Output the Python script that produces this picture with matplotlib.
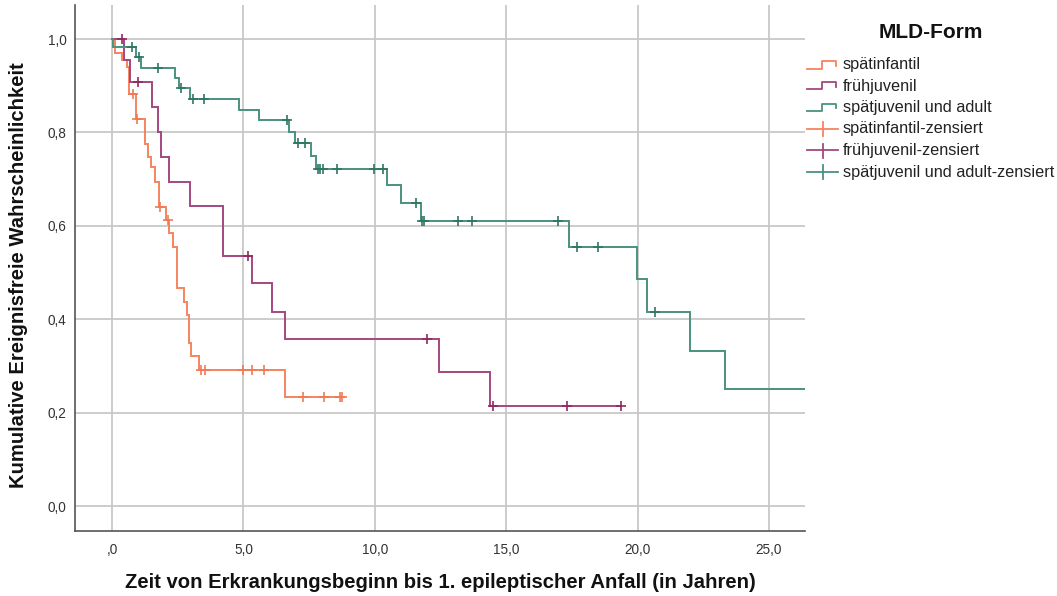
import numpy as np
import matplotlib
matplotlib.use('Agg')
import matplotlib.pyplot as plt
from matplotlib.lines import Line2D

plt.rcParams['font.family'] = ['Liberation Sans', 'DejaVu Sans']

# ---------------- data ----------------
groups = ['spätinfantil', 'frühjuvenil', 'spätjuvenil und adult']
legend_title = 'MLD-Form'
x_label = 'Zeit von Erkrankungsbeginn bis 1. epileptischer Anfall (in Jahren)'
y_label = 'Kumulative Ereignisfreie Wahrscheinlichkeit'

# spätinfantil
inf_times = [0.0, 0.11, 0.37, 0.55, 0.65, 0.91, 1.24, 1.36, 1.50, 1.63, 1.80,
             2.07, 2.16, 2.33, 2.48, 2.73, 2.84, 2.93, 3.01, 3.32, 6.58]
inf_surv = [1.0, 0.971, 0.956, 0.941, 0.882, 0.828, 0.775, 0.748, 0.725, 0.694, 0.641,
            0.612, 0.584, 0.555, 0.467, 0.437, 0.409, 0.350, 0.321, 0.292, 0.234]
inf_censor = [0.80, 0.96, 1.84, 2.12, 3.40, 3.53, 5.00, 5.32, 5.80, 7.28, 8.08, 8.68, 8.76]
inf_end = 8.76

# frühjuvenil
juv_times = [0.0, 0.45, 0.68, 1.53, 1.74, 1.86, 2.17, 2.97, 4.24, 5.31, 6.10, 6.58, 12.45, 14.38]
juv_surv = [1.0, 0.955, 0.909, 0.855, 0.802, 0.748, 0.695, 0.643, 0.536, 0.477, 0.416, 0.357,
            0.286, 0.214]
juv_censor = [0.37, 1.00, 5.17, 12.00, 14.49, 17.30, 19.35]
juv_end = 19.35

# spätjuvenil und adult
ad_times = [0.0, 0.05, 0.91, 1.09, 2.40, 2.56, 2.97, 4.85, 5.59, 6.72, 6.96, 7.57, 7.76,
            10.47, 11.00, 11.75, 17.40, 19.99, 20.35, 21.99, 23.33]
ad_surv = [1.0, 0.982, 0.961, 0.939, 0.917, 0.896, 0.872, 0.849, 0.826, 0.802, 0.777, 0.749,
           0.721, 0.687, 0.650, 0.611, 0.555, 0.486, 0.416, 0.333, 0.250]
ad_censor = [0.75, 1.03, 1.76, 2.63, 3.07, 3.51, 6.67, 7.09, 7.34, 7.84, 7.93, 8.03, 8.56,
             9.96, 10.32, 11.57, 11.80, 11.88, 13.15, 13.69, 16.98, 17.69, 18.48, 20.66]
ad_end = 28.0

x_ticks = [0, 5, 10, 15, 20, 25]
x_ticklabels = [',0', '5,0', '10,0', '15,0', '20,0', '25,0']
y_ticks = [0.0, 0.2, 0.4, 0.6, 0.8, 1.0]
y_ticklabels = ['0,0', '0,2', '0,4', '0,6', '0,8', '1,0']

line_colors = ['#F5845F', '#A4487F', '#4A9280']
mark_colors = ['#F07a55', '#8E2A63', '#2F7563']

# ---------------- figure ----------------
W, H = 1057, 596
fig = plt.figure(figsize=(W / 100, H / 100), dpi=100)
ax = fig.add_axes([75 / W, 1 - 531 / H, 730 / W, 526 / H])

def fx(px):
    return px / W

def fy(py):
    return 1 - py / H

series = [
    (inf_times, inf_surv, inf_censor, inf_end),
    (juv_times, juv_surv, juv_censor, juv_end),
    (ad_times, ad_surv, ad_censor, ad_end),
]

for (t, s, c, end), lc, mc in zip(series, line_colors, mark_colors):
    xs = list(t) + [end]
    ys = list(s) + [s[-1]]
    ax.step(xs, ys, where='post', color=lc, lw=1.4, zorder=3, solid_joinstyle='miter')
    idx = np.searchsorted(np.array(t), np.array(c), side='right') - 1
    cy = np.array(s)[idx]
    ax.plot(c, cy, linestyle='none', marker='+', markersize=7, markeredgewidth=1.2,
            color=mc, zorder=4)

ax.set_xlim(-1.41, 26.37)
ax.set_ylim(-0.0535, 1.073)
ax.set_xticks(x_ticks)
ax.set_xticklabels(x_ticklabels)
ax.set_yticks(y_ticks)
ax.set_yticklabels(y_ticklabels)
ax.tick_params(axis='both', length=0, labelsize=9.8, labelcolor='#333333')
ax.tick_params(axis='x', pad=9)
ax.tick_params(axis='y', pad=6)
ax.grid(True, color='#c8c8c8', lw=1.3, zorder=0)
ax.set_axisbelow(True)
for sp in ['top', 'right']:
    ax.spines[sp].set_visible(False)
for sp in ['left', 'bottom']:
    ax.spines[sp].set_color('#555555')
    ax.spines[sp].set_linewidth(1.2)

fig.text(fx(440), fy(582), x_label, fontsize=14.6, fontweight='bold', color='#111111',
         ha='center', va='center')
fig.text(fx(19), fy(275), y_label, fontsize=14.6, fontweight='bold', color='#111111',
         ha='center', va='center', rotation=90)

# ---------------- legend (drawn manually) ----------------
fig.text(fx(931), fy(33), legend_title, fontsize=15, fontweight='bold',
         ha='center', va='center', color='#111111')

labels = groups + [g + '-zensiert' for g in groups]
row_y = [65, 86, 107.5, 129, 150.5, 172]
for i, (lab, py) in enumerate(zip(labels, row_y)):
    col = line_colors[i % 3]
    if i < 3:
        xs = [fx(807), fx(822), fx(822), fx(836), fx(836)]
        ys = [fy(py + 3.5), fy(py + 3.5), fy(py - 4), fy(py - 4), fy(py + 0.5)]
        fig.add_artist(Line2D(xs, ys, color=col, lw=1.3, transform=fig.transFigure))
    else:
        fig.add_artist(Line2D([fx(807), fx(838)], [fy(py), fy(py)], color=col, lw=1.3,
                              transform=fig.transFigure))
        fig.add_artist(Line2D([fx(822.5), fx(822.5)], [fy(py - 7), fy(py + 7)], color=col,
                              lw=1.3, transform=fig.transFigure))
    fig.text(fx(843), fy(py), lab, fontsize=11.7, ha='left', va='center', color='#222222')

fig.savefig('out.png', dpi=100)
